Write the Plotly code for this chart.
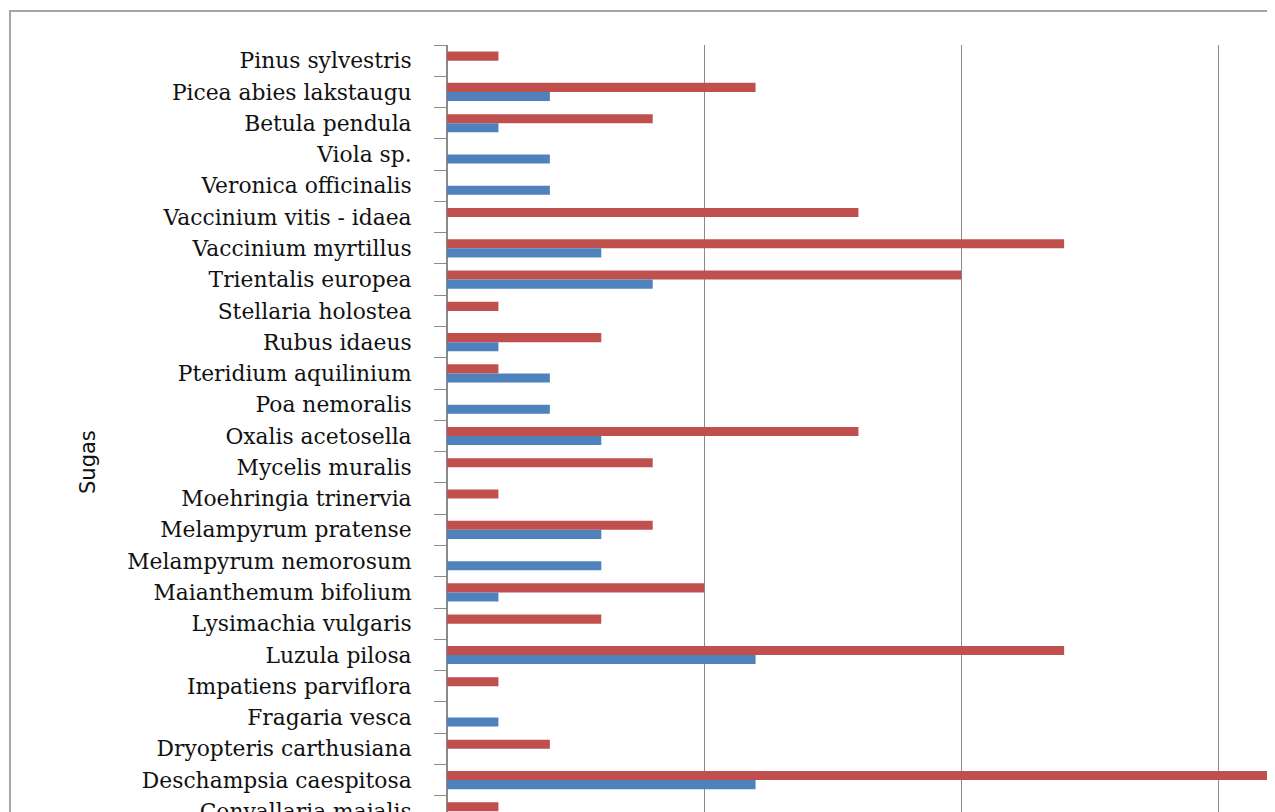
import plotly.graph_objects as go

categories = [
    "Pinus sylvestris", "Picea abies lakstaugu", "Betula pendula", "Viola sp.",
    "Veronica officinalis", "Vaccinium vitis - idaea", "Vaccinium myrtillus",
    "Trientalis europea", "Stellaria holostea", "Rubus idaeus",
    "Pteridium aquilinium", "Poa nemoralis", "Oxalis acetosella",
    "Mycelis muralis", "Moehringia trinervia", "Melampyrum pratense",
    "Melampyrum nemorosum", "Maianthemum bifolium", "Lysimachia vulgaris",
    "Luzula pilosa", "Impatiens parviflora", "Fragaria vesca",
    "Dryopteris carthusiana", "Deschampsia caespitosa", "Convallaria majalis",
]
red_values = [1, 6, 4, 0, 0, 8, 12, 10, 1, 3, 1, 0, 8, 4, 1, 4, 0, 5, 3, 12, 1, 0, 2, 17, 1]
blue_values = [0, 2, 1, 2, 2, 0, 3, 4, 0, 1, 2, 2, 3, 0, 0, 3, 3, 1, 0, 6, 0, 1, 0, 6, 0]

# the page body adds an 8px offset, so the figure is 8px smaller
W, H = 1267, 804
L, T = 439, 37
PW, PH = W - L, H - T

fig = go.Figure()
fig.add_trace(go.Bar(y=categories, x=red_values, orientation="h", name="2",
                     marker=dict(color="#C0504D", line=dict(width=0))))
fig.add_trace(go.Bar(y=categories, x=blue_values, orientation="h", name="1",
                     marker=dict(color="#4F81BD", line=dict(width=0))))

fig.update_layout(
    width=W, height=H,
    margin=dict(l=L, r=0, t=T, b=0, pad=0, autoexpand=False),
    paper_bgcolor="white", plot_bgcolor="white",
    barmode="group", bargap=0.42, bargroupgap=0,
    showlegend=False,
    font=dict(family="DejaVu Serif", size=21.8, color="#111111"),
)
fig.update_xaxes(
    range=[0, 16.1], dtick=5, tick0=0, automargin=False,
    showgrid=True, gridcolor="#8a8a8a", gridwidth=1,
    showline=False, zeroline=True, zerolinecolor="#8a8a8a", zerolinewidth=1,
    showticklabels=False, ticks="",
)
fig.update_yaxes(
    type="category", range=[24.02, -0.5], automargin=False,
    showgrid=False, showline=True, linecolor="#8a8a8a", linewidth=1,
    ticks="outside", tickson="boundaries", ticklen=12, tickcolor="#8a8a8a",
    tickfont=dict(family="DejaVu Serif", size=21.8, color="#111111"),
    ticklabelstandoff=30,
)

# outer chart border
fig.add_shape(type="rect", xref="paper", yref="paper",
              x0=(2 - L) / PW, x1=(W + 20 - L) / PW,
              y0=-0.1, y1=1 + (T - 3) / PH,
              line=dict(color="#a6a6a6", width=2), fillcolor="rgba(0,0,0,0)", layer="below")

fig.add_annotation(text="Sugas", xref="paper", yref="paper",
                   x=(80 - L) / PW, y=1 - (454 - T) / PH,
                   textangle=-90, showarrow=False,
                   font=dict(family="DejaVu Sans", size=21, color="#111111"),
                   xanchor="center", yanchor="middle")

fig.write_html("out.html")
